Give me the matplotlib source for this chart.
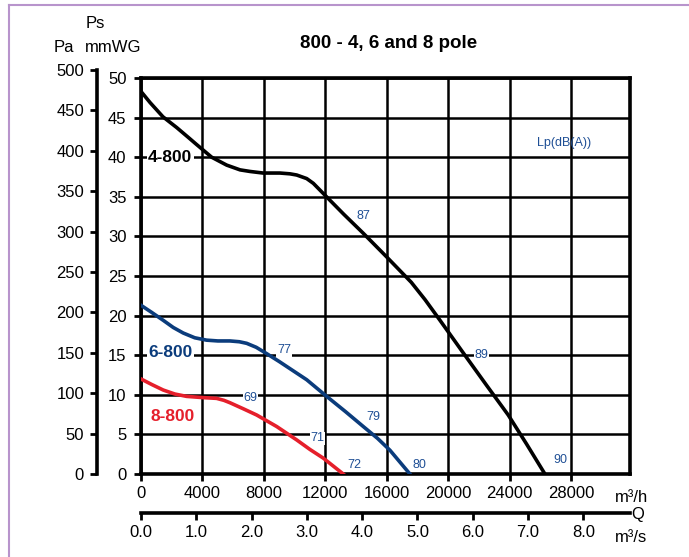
import numpy as np
import matplotlib.pyplot as plt
from matplotlib.lines import Line2D

plt.rcParams['font.family'] = ['Liberation Sans', 'DejaVu Sans']

# flow in m3/h, static pressure in mmWG
q_4800 = [0, 590, 1430, 2320, 3080, 3620, 4600, 5580, 6450, 7100, 7950, 9050, 9700,
          10140, 10790, 11220, 11980, 13200, 14470, 16000, 17600, 18500, 19470,
          21090, 22500, 23910, 25100, 26300]
ps_4800 = [48.3, 46.9, 45.1, 43.75, 42.5, 41.6, 40.0, 39.0, 38.4, 38.2, 38.0, 38.0, 37.9,
           37.75, 37.3, 36.7, 35.2, 32.8, 30.4, 27.4, 24.2, 22.0, 19.4,
           15.0, 11.2, 7.45, 3.8, 0]

q_6800 = [0, 700, 1450, 2100, 2750, 3500, 4270, 5000, 5790, 6400, 6880, 7500, 8180,
          9000, 9700, 10790, 12090, 13300, 14470, 15400, 16210, 17510]
ps_6800 = [21.3, 20.4, 19.4, 18.5, 17.8, 17.2, 16.9, 16.8, 16.8, 16.7, 16.5, 16.0, 15.2,
           14.2, 13.3, 11.9, 9.8, 7.9, 6.0, 4.5, 3.0, 0]

q_8800 = [0, 700, 1450, 2200, 2970, 4000, 4920, 5400, 5790, 6700, 7530, 8830, 10140,
          11000, 11870, 13170]
ps_8800 = [12.0, 11.3, 10.6, 10.1, 9.8, 9.65, 9.55, 9.3, 9.0, 8.2, 7.45, 6.0, 4.3,
           3.1, 2.0, 0]

# sound level labels Lp dB(A) and where they sit
lp_text = ['87', '77', '69', '79', '71', '72', '80', '89', '90']
lp_q = [14500, 9310, 7140, 15120, 11480, 13870, 18160, 22180, 27280]
lp_ps = [32.6, 15.6, 9.65, 7.2, 4.5, 1.14, 1.14, 15.0, 1.77]

q_ticks = [0, 4000, 8000, 12000, 16000, 20000, 24000, 28000]
qs_ticks = [0, 1, 2, 3, 4, 5, 6, 7, 8]
mmwg_ticks = [0, 5, 10, 15, 20, 25, 30, 35, 40, 45, 50]
pa_ticks = [0, 50, 100, 150, 200, 250, 300, 350, 400, 450, 500]

W, H = 689, 557
BLUE = '#0b3c7c'
LBLUE = '#1f4f95'
RED = '#e51f2b'
XMAX = 31840


def px(x, y):
    # pixel position -> figure fraction
    return x / W, 1 - y / H


fig = plt.figure(figsize=(W / 100, H / 100), dpi=100)

# main chart
ax = fig.add_axes([141 / W, 1 - 474 / H, (630 - 141) / W, (474 - 78) / H])
ax.set_xlim(0, XMAX)
ax.set_ylim(0, 50)
for q in q_ticks:
    ax.axvline(q, color='black', lw=1.8, zorder=1)
for p in mmwg_ticks:
    ax.axhline(p, color='black', lw=1.8, zorder=1)
for s in ax.spines.values():
    s.set_linewidth(2.6)
ax.set_xticks(q_ticks)
ax.set_yticks(mmwg_ticks)
ax.tick_params(axis='y', direction='out', length=5, width=2, labelsize=12, pad=5.5)
ax.tick_params(axis='x', direction='out', length=5, width=2, labelsize=12, pad=3.5)

ax.plot(q_4800, ps_4800, color='black', lw=2.6, zorder=3, solid_joinstyle='round')
ax.plot(q_6800, ps_6800, color=BLUE, lw=2.6, zorder=3, solid_joinstyle='round')
ax.plot(q_8800, ps_8800, color=RED, lw=2.6, zorder=3, solid_joinstyle='round')

box = dict(fc='white', ec='none', pad=1)
ax.text(1890, 39.9, '4-800', color='black', fontsize=12.5, fontweight='bold',
        ha='center', va='center', bbox=box, zorder=4)
ax.text(1890, 15.4, '6-800', color=BLUE, fontsize=12.5, fontweight='bold',
        ha='center', va='center', bbox=box, zorder=4)
ax.text(2065, 7.2, '8-800', color=RED, fontsize=12.5, fontweight='bold',
        ha='center', va='center', bbox=box, zorder=4)
for t, q, p in zip(lp_text, lp_q, lp_ps):
    ax.text(q, p, t, color=LBLUE, fontsize=9, ha='center', va='center',
            bbox=dict(fc='white', ec='none', pad=0.5), zorder=4)
ax.text(27540, 41.75, 'Lp(dB(A))', color=LBLUE, fontsize=9, ha='center', va='center', zorder=4)

# Pa axis on the far left
axp = fig.add_axes([96.5 / W, 1 - 474 / H, 0.001, (474 - 70) / H])
axp.set_ylim(0, 500)
axp.set_yticks(pa_ticks)
axp.set_xticks([])
for k in ['top', 'right', 'bottom']:
    axp.spines[k].set_visible(False)
axp.spines['left'].set_linewidth(2.6)
axp.patch.set_visible(False)
axp.tick_params(axis='y', direction='out', length=5, width=2, labelsize=12, pad=4)

# m3/s axis under the chart
axs = fig.add_axes([141 / W, 1 - 513 / H, (630 - 141) / W, 0.001])
axs.set_xlim(0, XMAX / 3600)
axs.set_xticks(qs_ticks)
axs.set_xticklabels(['%.1f' % v for v in qs_ticks])
axs.set_yticks([])
for k in ['top', 'right', 'left']:
    axs.spines[k].set_visible(False)
axs.spines['bottom'].set_linewidth(2.6)
axs.patch.set_visible(False)
axs.tick_params(axis='x', direction='out', length=5, width=2, labelsize=12, pad=3.5)

# titles and unit labels
fig.text(*px(389, 43), '800 - 4, 6 and 8 pole', fontsize=13.5, fontweight='bold',
         ha='center', va='center')
fig.text(*px(95, 23), 'Ps', fontsize=12, ha='center', va='center')
fig.text(*px(64, 47), 'Pa', fontsize=12, ha='center', va='center')
fig.text(*px(113, 47), 'mmWG', fontsize=12, ha='center', va='center')
fig.text(*px(615, 497), 'm³/h', fontsize=12, ha='left', va='center')
fig.text(*px(615, 537), 'm³/s', fontsize=12, ha='left', va='center')
fig.text(*px(631, 514), 'Q', fontsize=12, ha='left', va='center')

# purple frame around the sheet
fig.add_artist(Line2D([9 / W, 1], [1 - 5 / H, 1 - 5 / H], color='#b894cc', lw=1.5))
fig.add_artist(Line2D([9 / W, 9 / W], [0, 1 - 5 / H], color='#b894cc', lw=1.5))

fig.savefig('out.png', dpi=100)
